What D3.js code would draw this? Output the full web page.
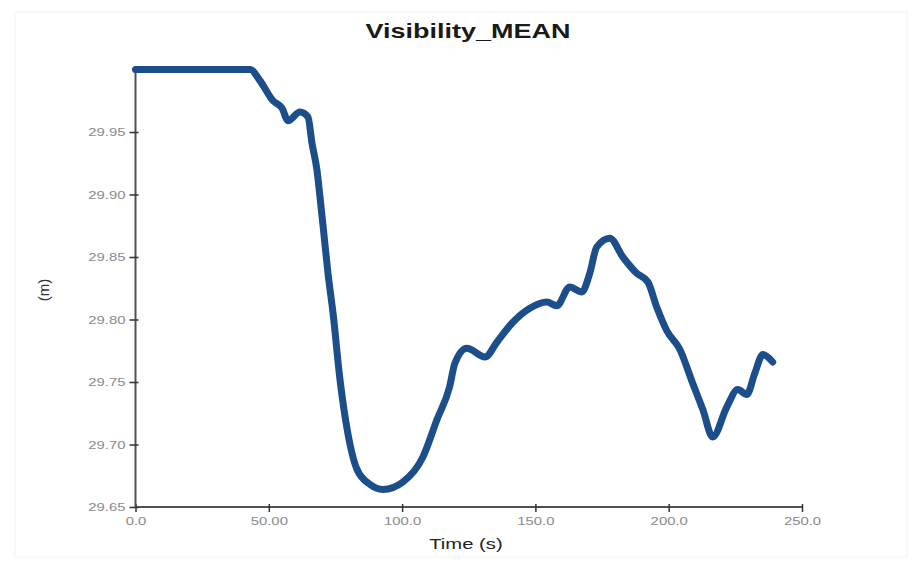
<!DOCTYPE html>
<html>
<head>
<meta charset="utf-8">
<script src="https://cdn.jsdelivr.net/npm/d3@7"></script>
<style>
  body { margin: 0; background: #fff; }
  text { font-family: 'Liberation Sans', Arial, sans-serif; }
</style>
</head>
<body>
<div id="root"></div>
<script>
const titleText = 'Visibility_MEAN';
const xLabelText = 'Time (s)';
const yLabelText = '(m)';

const timeValues = [0, 43.0, 46.7, 51.6, 55.0, 57.2, 61.7, 64.7, 66.2, 68.1, 69.2, 70.4, 72.2, 74.1,
  76.7, 79.4, 83.1, 88.0, 92.9, 100.3, 107.8, 113.1, 117.8, 119.8, 124.3, 131.1, 135.6,
  141.2, 147.9, 154.3, 158.0, 162.9, 167.4, 170.4, 173.0, 177.9, 182.8, 188.0, 192.2,
  195.5, 199.3, 204.2, 209.0, 212.8, 216.5, 221.8, 225.9, 229.3, 232.3, 235.3, 239.0];
const visibilityValues = [30.0, 30.0, 29.991, 29.975, 29.969, 29.959, 29.966, 29.962, 29.941, 29.919, 29.898, 29.874, 29.837, 29.805,
  29.752, 29.712, 29.680, 29.668, 29.664, 29.670, 29.690, 29.720, 29.746, 29.765, 29.777, 29.770, 29.782,
  29.797, 29.809, 29.814, 29.811, 29.826, 29.822, 29.837, 29.858, 29.865, 29.850, 29.837, 29.830,
  29.810, 29.791, 29.776, 29.749, 29.728, 29.706, 29.730, 29.744, 29.740, 29.757, 29.772, 29.766];

const xTicks = [0, 50, 100, 150, 200, 250];
const xTickLabels = ['0.0', '50.00', '100.0', '150.0', '200.0', '250.0'];
const yTicks = [29.65, 29.70, 29.75, 29.80, 29.85, 29.90, 29.95];
const yTickLabels = ['29.65', '29.70', '29.75', '29.80', '29.85', '29.90', '29.95'];

const dataset = timeValues.map((t, i) => ({ t, v: visibilityValues[i] }));

const svgWidth = 922;
const svgHeight = 565;
const stretch = 1.35;

const xScale = d3.scaleLinear().domain([0, 250]).range([135.5, 802]);
const yScale = d3.scaleLinear().domain([29.65, 30.0]).range([507, 69.5]);

const svg = d3.select('#root').append('svg')
  .attr('width', svgWidth)
  .attr('height', svgHeight);

svg.append('rect')
  .attr('x', 15).attr('y', 12)
  .attr('width', 892).attr('height', 545)
  .attr('fill', 'none')
  .attr('stroke', '#f4f4f4');

function stretchText(sel) {
  sel.each(function () {
    const w = this.getComputedTextLength();
    d3.select(this).attr('textLength', w * stretch).attr('lengthAdjust', 'spacingAndGlyphs');
  });
}

// axes
const xAxis = svg.append('g')
  .attr('transform', `translate(0, ${yScale(29.65)})`)
  .call(d3.axisBottom(xScale).tickValues(xTicks).tickSize(5)
    .tickFormat((d, i) => xTickLabels[i]));

const yAxis = svg.append('g')
  .attr('transform', `translate(${xScale(0)}, 0)`)
  .call(d3.axisLeft(yScale).tickValues(yTicks).tickSize(6)
    .tickFormat((d, i) => yTickLabels[i]));

[xAxis, yAxis].forEach(ax => {
  ax.select('.domain').attr('stroke', '#505050').attr('stroke-width', 2);
  ax.selectAll('.tick line').attr('stroke', '#333').attr('stroke-width', 1.5);
  ax.selectAll('.tick text')
    .attr('fill', '#8a8a8a')
    .style('font-size', '11px');
});
yAxis.select('.domain').attr('d', `M0,${yScale(29.65)}V${yScale(30.0)}`);
xAxis.select('.domain').attr('d', `M${xScale(0)},0H${xScale(250)}`);
xAxis.selectAll('.tick line').attr('y1', -3);
yAxis.selectAll('.tick line').attr('x1', 3);
xAxis.selectAll('.tick text').attr('y', 10);
yAxis.selectAll('.tick text').attr('x', -10);
xAxis.selectAll('.tick text').call(stretchText);
yAxis.selectAll('.tick text').call(stretchText);

// line
const line = d3.line()
  .x(d => xScale(d.t))
  .y(d => yScale(d.v))
  .curve(d3.curveMonotoneX);

svg.append('path')
  .datum(dataset)
  .attr('d', line)
  .attr('fill', 'none')
  .attr('stroke', '#1b4e8b')
  .attr('stroke-width', 7)
  .attr('stroke-linejoin', 'round')
  .attr('stroke-linecap', 'round');

// titles
svg.append('text')
  .attr('x', 468)
  .attr('y', 38)
  .attr('text-anchor', 'middle')
  .style('font-size', '20px')
  .style('font-weight', 'bold')
  .attr('fill', '#1a1a1a')
  .text(titleText)
  .call(stretchText);

svg.append('text')
  .attr('x', 466)
  .attr('y', 549)
  .attr('text-anchor', 'middle')
  .style('font-size', '15px')
  .attr('fill', '#222')
  .text(xLabelText)
  .call(stretchText);

svg.append('text')
  .attr('transform', 'translate(49, 290) rotate(-90)')
  .attr('text-anchor', 'middle')
  .style('font-size', '15px')
  .attr('fill', '#333')
  .text(yLabelText);
</script>
</body>
</html>
